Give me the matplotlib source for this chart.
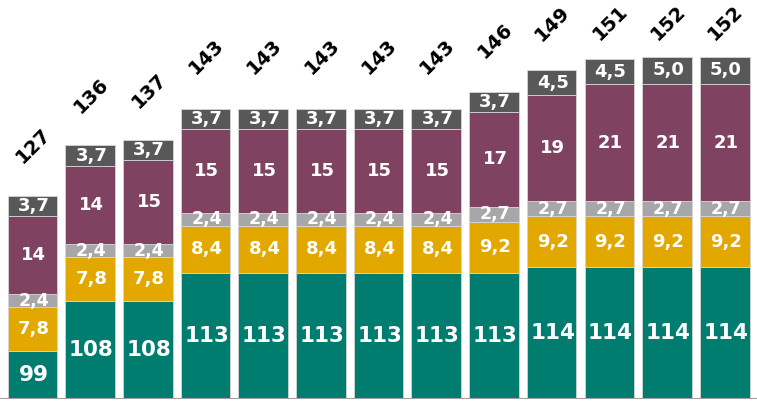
import matplotlib
matplotlib.use("Agg")
import matplotlib.pyplot as plt
import numpy as np

categories = [str(i) for i in range(1, 14)]
seg1 = [99, 108, 108, 113, 113, 113, 113, 113, 113, 114, 114, 114, 114]
seg2 = [7.8, 7.8, 7.8, 8.4, 8.4, 8.4, 8.4, 8.4, 9.2, 9.2, 9.2, 9.2, 9.2]
seg3 = [2.4, 2.4, 2.4, 2.4, 2.4, 2.4, 2.4, 2.4, 2.7, 2.7, 2.7, 2.7, 2.7]
seg4 = [14, 14, 15, 15, 15, 15, 15, 15, 17, 19, 21, 21, 21]
seg5 = [3.7, 3.7, 3.7, 3.7, 3.7, 3.7, 3.7, 3.7, 3.7, 4.5, 4.5, 5.0, 5.0]
totals = [127, 136, 137, 143, 143, 143, 143, 143, 146, 149, 151, 152, 152]

series = [seg1, seg2, seg3, seg4, seg5]
colors = ["#007D6F", "#E2A800", "#A7A7A9", "#7F4260", "#585858"]
fsizes = [15.5, 13, 12.5, 13, 13]

def fmt(v):
    if float(v).is_integer() and v >= 10:
        return str(int(v))
    return f"{v:.1f}".replace(".", ",")

fig = plt.figure(figsize=(7.57, 4.04), dpi=100)
ax = fig.add_axes([0, 5 / 404, 1, 399 / 404])
x = np.arange(len(categories))
ymin = 90.3
scale = 5.56
bottom = np.zeros(len(categories))
for k, (vals, c) in enumerate(zip(series, colors)):
    vals = np.array(vals, dtype=float)
    base = np.where(bottom == 0, ymin, bottom)
    heights = np.where(bottom == 0, vals - ymin, vals)
    ax.bar(x, heights, bottom=base, width=0.86, color=c,
           edgecolor="#D5D5D5", linewidth=0.6)
    for i in range(len(x)):
        yc = base[i] + heights[i] / 2
        ax.text(x[i] + 0.02, yc, fmt(vals[i]), ha="center", va="center",
                color="white", fontsize=fsizes[k], fontweight="bold",
                family="DejaVu Sans")
    bottom = base + heights

for i, t in enumerate(totals):
    ly = min(t + 8.8, 157.9)
    ax.text(x[i] + 0.02, ly, str(t), ha="center", va="center", rotation=45,
            fontsize=14, fontweight="bold", color="black", family="DejaVu Sans")

ax.axhline(ymin, color="#A0A0A0", linewidth=1.5)
ax.set_xlim(-0.564, 12.56)
ax.set_ylim(ymin, ymin + 399 / scale)
ax.axis("off")
fig.savefig("out.png", dpi=100)
